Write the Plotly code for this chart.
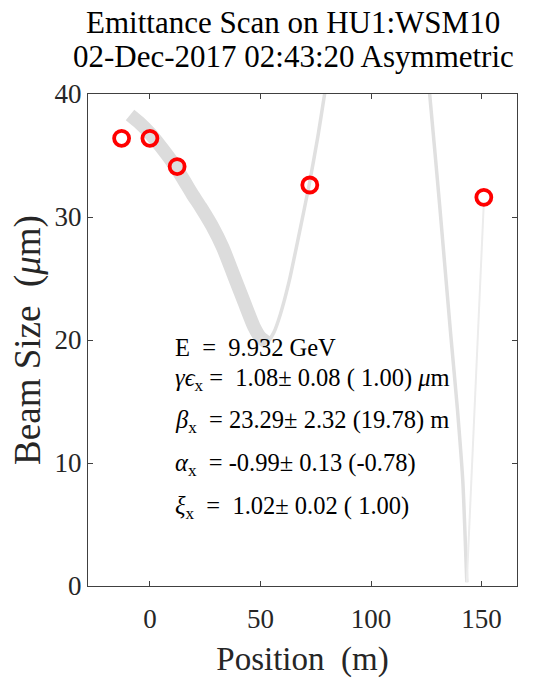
import plotly.graph_objects as go

# ---- data ----
meas_pos = [-12.8, 0.0, 12.3, 72.3, 151.0]
meas_size = [36.4, 36.4, 34.1, 32.6, 31.6]

fit_thick_x = [-9, -5, 0, 5, 10, 15, 19, 23, 28, 33, 38, 43, 47, 50, 53]
fit_thick_y = [38.3, 37.7, 36.8, 35.7, 34.5, 33.1, 31.9, 30.8, 29.3, 27.5, 25.2, 22.9, 21.1, 20.2, 19.8]

fit_thin_x = [50, 53, 56, 59, 63, 67, 72, 76, 79, 85, 95, 105, 115, 122, 126.5, 131, 136, 139, 141.5, 143.3]
fit_thin_y = [20.2, 19.8, 20.6, 22.1, 24.8, 28.2, 32.6, 36.6, 40.0, 47.0, 55.0, 58.0, 55.0, 48.0, 40.0, 31.0, 20.5, 14.5, 8.5, 0.3]

fit_tail_x = [143.3, 145, 147, 149, 151]
fit_tail_y = [0.3, 7.0, 14.8, 23.0, 31.2]

x_ticks = [0, 50, 100, 150]
y_ticks = [0, 10, 20, 30, 40]
x_range = [-28, 166]
y_range = [0, 40]

NB = "\u00a0"
title_lines = ["Emittance Scan on HU1:WSM10", "02-Dec-2017 02:43:20 Asymmetric"]
info_lines = [
    f"E{NB}{NB}={NB}{NB}9.932 GeV",
    f"<i>γϵ</i><sub>x</sub>{NB}={NB}{NB}1.08±{NB}0.08{NB}({NB}1.00){NB}<i>μ</i>m",
    f"<i>β</i><sub>x</sub>{NB}{NB}={NB}23.29±{NB}2.32{NB}(19.78){NB}m",
    f"<i>α</i><sub>x</sub>{NB}{NB}={NB}-0.99±{NB}0.13{NB}(-0.78)",
    f"<i>ξ</i><sub>x</sub>{NB}{NB}={NB}{NB}1.02±{NB}0.02{NB}({NB}1.00)",
]
info_y = [19.4, 16.8, 13.4, 9.9, 6.4]
info_x = 10.3

FONT = "Liberation Serif, Times New Roman, serif"

fig = go.Figure()
fig.add_trace(go.Scatter(x=fit_thick_x, y=fit_thick_y, mode="lines",
                         line=dict(color="#dcdcdc", width=13.5, shape="spline", smoothing=0.6),
                         showlegend=False, hoverinfo="skip"))
fig.add_trace(go.Scatter(x=fit_thin_x, y=fit_thin_y, mode="lines",
                         line=dict(color="#e0e0e0", width=3.5, shape="spline", smoothing=0.5),
                         showlegend=False, hoverinfo="skip"))
fig.add_trace(go.Scatter(x=fit_tail_x, y=fit_tail_y, mode="lines",
                         line=dict(color="#ececec", width=2),
                         showlegend=False, hoverinfo="skip"))
fig.add_trace(go.Scatter(x=meas_pos, y=meas_size, mode="markers",
                         marker=dict(symbol="circle-open", size=15, color="#ff0000",
                                     line=dict(color="#ff0000", width=3.8)),
                         showlegend=False, cliponaxis=False))

for i, t in enumerate(info_lines):
    fig.add_annotation(x=info_x, y=info_y[i], xref="x", yref="y", text=t,
                       showarrow=False, xanchor="left", yanchor="middle",
                       font=dict(family=FONT, size=24.5, color="#000000"))

title_y_px = [22, 56]
for i, t in enumerate(title_lines):
    fig.add_annotation(x=(293 - 88) / 429, y=(586 - title_y_px[i]) / 492,
                       xref="paper", yref="paper", text=t, showarrow=False,
                       xanchor="center", yanchor="middle",
                       font=dict(family=FONT, size=31, color="#000000"))

axis_common = dict(showline=True, linecolor="#404040", linewidth=1.3, mirror="ticks",
                   ticks="inside", ticklen=5, tickwidth=1.3, tickcolor="#404040",
                   showgrid=False, zeroline=False,
                   tickfont=dict(family=FONT, size=27, color="#262626"))

fig.update_layout(
    width=546, height=686,
    margin=dict(l=88, r=29, t=94, b=100),
    paper_bgcolor="white", plot_bgcolor="white",
    xaxis=dict(range=x_range, tickvals=x_ticks, ticklabelstandoff=8,
               title=dict(text="Position  (m)", font=dict(family=FONT, size=33, color="#262626"), standoff=14),
               **axis_common),
    yaxis=dict(range=y_range, tickvals=y_ticks,
               title=dict(text="Beam Size  (<i>μ</i>m)", font=dict(family=FONT, size=37, color="#262626"), standoff=2),
               **axis_common),
)

fig.write_html("out.html")
